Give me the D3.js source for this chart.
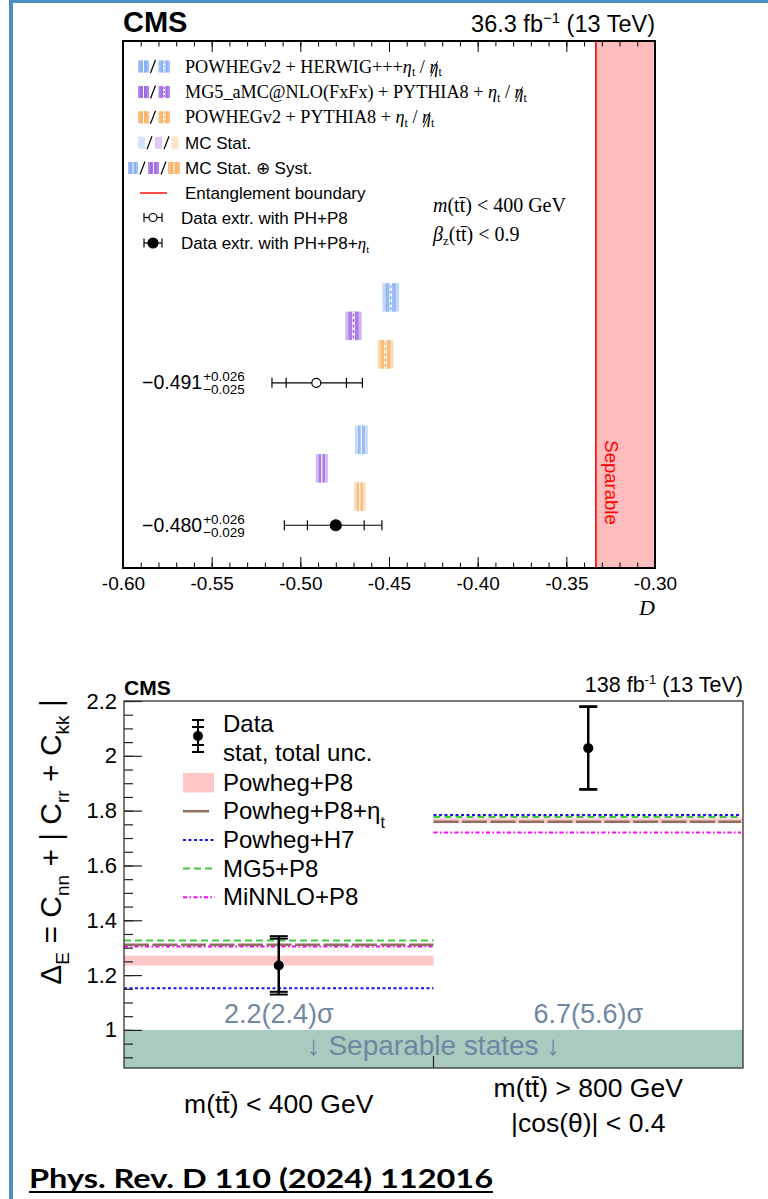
<!DOCTYPE html>
<html><head><meta charset="utf-8">
<script src="https://cdn.jsdelivr.net/npm/d3@7"></script>
<style>body{margin:0;background:#fff} svg{display:block}</style>
</head><body><svg id="c" width="768" height="1199"></svg>
<script>
// ================= DATA: top chart (36.3 fb-1, D observable) =================
const xTicksTop = [-0.60, -0.55, -0.50, -0.45, -0.40, -0.35, -0.30];
const xTickLabelsTop = ["-0.60", "-0.55", "-0.50", "-0.45", "-0.40", "-0.35", "-0.30"];
const mcNames = ["POWHEGv2 + HERWIG++", "MG5_aMC@NLO(FxFx) + PYTHIA8", "POWHEGv2 + PYTHIA8"];
// predictions without eta_t (upper group) and with eta_t (lower group)
const mcNoEtaValue = [-0.449, -0.470, -0.452];
const mcNoEtaTotal = [0.0047, 0.0046, 0.0044];
const mcNoEtaStat = [0.0029, 0.0028, 0.0027];
const mcEtaValue = [-0.4656, -0.4879, -0.4665];
const mcEtaTotal = [0.0036, 0.0034, 0.0032];
const mcEtaStat = [0.0022, 0.0021, 0.0020];
// extracted data
const dataValue = [-0.491, -0.480];
const dataErrUp = [0.026, 0.026];
const dataErrDown = [0.025, 0.029];
const dataStatUp = [0.017, 0.016];
const dataStatDown = [0.017, 0.016];
const dataValueLabels = ["\u22120.491", "\u22120.480"];
const dataUpLabels = ["+0.026", "+0.026"];
const dataDownLabels = ["\u22120.025", "\u22120.029"];
const entanglementBoundary = -1 / 3;
// row order (categorical rows of the plot, top to bottom)
const mcNoEtaRows = [0, 1, 2];
const dataRows = [3, 8];
const mcEtaRows = [5, 6, 7];

// ================= DATA: bottom chart (138 fb-1, Delta_E) =================
const regions = ["low", "high"];
const yTicksBottom = [1, 1.2, 1.4, 1.6, 1.8, 2, 2.2];
const yTickLabelsBottom = ["1", "1.2", "1.4", "1.6", "1.8", "2", "2.2"];
const deltaData = [1.235, 2.028];
const deltaTotUp = [0.107, 0.153];
const deltaTotDown = [0.106, 0.152];
const deltaStatUp = [0.098, 0.150];
const deltaStatDown = [0.096, 0.149];
const powhegP8Low = [1.235, 1.754];
const powhegP8High = [1.271, 1.772];
const powhegP8Eta = [1.311, 1.759];
const powhegH7 = [1.152, 1.784];
const mg5P8 = [1.326, 1.777];
const minnloP8 = [1.304, 1.720];
const significance = ["2.2(2.4)\u03C3", "6.7(5.6)\u03C3"];
const separableLimit = 1.0;

// ================= styles =================
const W = 768, H = 1199;
const SANS = "'Liberation Sans', Arial, Helvetica, sans-serif";
const SERIF = "'Liberation Serif', 'Times New Roman', serif";
const mcColors = ["#7aa6f3", "#9458de", "#f6aa55"];
const svg = d3.select("#c");

// rich text helper: parts = [{t, sub, sup, it, fs, dx, slash}]
function rich(g, x, y, parts, o) {
  o = o || {};
  const fs = o.fs || 16;
  const t = g.append("text").attr("x", x).attr("y", y)
    .attr("font-family", o.ff || SANS).attr("font-size", fs)
    .attr("fill", o.fill || "#000");
  if (o.anchor) t.attr("text-anchor", o.anchor);
  if (o.weight) t.attr("font-weight", o.weight);
  if (o.transform) t.attr("transform", o.transform);
  let cur = 0;
  const slashed = [];
  parts.forEach(p => {
    const f = p.fs || ((p.sub || p.sup) ? fs * 0.68 : fs);
    const shift = p.sub ? (p.subShift != null ? p.subShift : fs * 0.28) : p.sup ? -(p.supShift != null ? p.supShift : fs * 0.4) : 0;
    const ts = t.append("tspan").attr("font-size", f).attr("dy", shift - cur).text(p.t);
    if (p.dx) ts.attr("dx", p.dx);
    if (p.it) ts.attr("font-style", "italic");
    if (p.ff) ts.attr("font-family", p.ff);
    if (p.slash) slashed.push(ts);
    cur = shift;
  });
  // draw slash strokes over marked glyphs (e.g. eta-slash)
  slashed.forEach(ts => {
    const bb = ts.node().getBBox();
    g.append("line").attr("x1", bb.x + bb.width * 0.15).attr("x2", bb.x + bb.width * 0.9)
      .attr("y1", y + 4).attr("y2", y - fs * 0.62).attr("stroke", "#000").attr("stroke-width", 0.9);
  });
  return t;
}

// ---------- page frame ----------
svg.append("rect").attr("x", 0).attr("y", 0).attr("width", W).attr("height", H).attr("fill", "#fff");
svg.append("rect").attr("x", 9).attr("y", 0).attr("width", 4).attr("height", H).attr("fill", "#4a8fc0");
svg.append("rect").attr("x", 9).attr("y", 0).attr("width", W - 9).attr("height", 3).attr("fill", "#4a8fc0");

// ================= TOP CHART =================
const T = { l: 123, r: 655, t: 41, b: 568 };
const x1 = d3.scaleLinear().domain([-0.60, -0.30]).range([T.l, T.r]);
const y1 = d3.scaleLinear().domain([-9, 9.5]).range([T.t, T.b]);
const rowH = y1(1) - y1(0);
const gT = svg.append("g");

// separable region
gT.append("rect").attr("x", x1(entanglementBoundary)).attr("y", T.t)
  .attr("width", x1(-0.30) - x1(entanglementBoundary)).attr("height", T.b - T.t).attr("fill", "#ffbcbc");
gT.append("line").attr("x1", x1(entanglementBoundary)).attr("x2", x1(entanglementBoundary))
  .attr("y1", T.t).attr("y2", T.b).attr("stroke", "#ff0000").attr("stroke-width", 1.6);
gT.append("text").attr("transform", `translate(${x1(entanglementBoundary) + 9.5},${y1(6.5)}) rotate(90)`)
  .attr("text-anchor", "middle").attr("font-family", SANS).attr("font-size", 18.5).attr("fill", "#ff0000").text("Separable");

// MC boxes
function mcBox(cx, tot, stat, yc, color, eta) {
  const g = gT.append("g");
  const h = rowH;
  g.append("rect").attr("x", x1(cx - tot)).attr("width", x1(cx + tot) - x1(cx - tot))
    .attr("y", yc - h / 2).attr("height", h).attr("fill", color).attr("fill-opacity", 0.45);
  g.append("rect").attr("x", x1(cx - stat)).attr("width", x1(cx + stat) - x1(cx - stat))
    .attr("y", yc - h / 2).attr("height", h).attr("fill", color).attr("fill-opacity", 0.6);
  if (eta) {
    g.append("line").attr("x1", x1(cx)).attr("x2", x1(cx)).attr("y1", yc - h / 2).attr("y2", yc + h / 2)
      .attr("stroke", "#fff").attr("stroke-width", 1.3).attr("stroke-opacity", 0.9);
    [-1, 1].forEach(s => g.append("line").attr("x1", x1(cx + s * stat)).attr("x2", x1(cx + s * stat))
      .attr("y1", yc - h / 2).attr("y2", yc + h / 2).attr("stroke", "#fff").attr("stroke-width", 0.8).attr("stroke-opacity", 0.6));
  } else {
    g.append("line").attr("x1", x1(cx)).attr("x2", x1(cx)).attr("y1", yc - h / 2).attr("y2", yc + h / 2)
      .attr("stroke", "#fff").attr("stroke-width", 2.6);
    g.append("line").attr("x1", x1(cx)).attr("x2", x1(cx)).attr("y1", yc - h / 2 + 2).attr("y2", yc + h / 2)
      .attr("stroke", color).attr("stroke-width", 1.4).attr("stroke-dasharray", "3,2.5");
  }
}
mcNames.forEach((n, i) => {
  mcBox(mcNoEtaValue[i], mcNoEtaTotal[i], mcNoEtaStat[i], y1(mcNoEtaRows[i]), mcColors[i], false);
  mcBox(mcEtaValue[i], mcEtaTotal[i], mcEtaStat[i], y1(mcEtaRows[i]), mcColors[i], true);
});

// data points
dataValue.forEach((v, i) => {
  const yc = y1(dataRows[i]);
  const g = gT.append("g").attr("stroke", "#000").attr("stroke-width", 1.2);
  g.append("line").attr("x1", x1(v - dataErrDown[i])).attr("x2", x1(v + dataErrUp[i])).attr("y1", yc).attr("y2", yc);
  [v - dataErrDown[i], v + dataErrUp[i], v - dataStatDown[i], v + dataStatUp[i]].forEach(e =>
    g.append("line").attr("x1", x1(e)).attr("x2", x1(e)).attr("y1", yc - 5).attr("y2", yc + 5));
  if (i === 0) g.append("circle").attr("cx", x1(v)).attr("cy", yc).attr("r", 4.5).attr("fill", "#fff");
  else g.append("circle").attr("cx", x1(v)).attr("cy", yc).attr("r", 5.5).attr("fill", "#000");
  const lab = rich(gT, 142, yc + 6.5, [{ t: dataValueLabels[i] }], { fs: 19.5 });
  const wLab = lab.node().getComputedTextLength();
  rich(gT, 142 + wLab + 1, yc - 1.5, [{ t: dataUpLabels[i] }], { fs: 13.5 });
  rich(gT, 142 + wLab + 1, yc + 11.5, [{ t: dataDownLabels[i] }], { fs: 13.5 });
});

// axes
const axB = gT.append("g").attr("transform", `translate(0,${T.b})`)
  .call(d3.axisBottom(x1).tickValues(xTicksTop).tickSize(-11).tickPadding(9).tickFormat((d, i) => xTickLabelsTop[i]));
const minorTop = d3.range(-0.60, -0.2999, 0.01);
gT.append("g").attr("transform", `translate(0,${T.b})`)
  .call(d3.axisBottom(x1).tickValues(minorTop).tickSize(-5.5).tickFormat(""));
gT.append("g").attr("transform", `translate(0,${T.t})`)
  .call(d3.axisTop(x1).tickValues(xTicksTop).tickSize(-11).tickFormat(""));
gT.append("g").attr("transform", `translate(0,${T.t})`)
  .call(d3.axisTop(x1).tickValues(minorTop).tickSize(-5.5).tickFormat(""));
gT.selectAll(".domain").remove();
gT.selectAll(".tick line").attr("stroke", "#000").attr("stroke-width", 1);
axB.selectAll("text").attr("font-family", SANS).attr("font-size", 19).attr("fill", "#000");
gT.append("rect").attr("x", T.l).attr("y", T.t).attr("width", T.r - T.l).attr("height", T.b - T.t)
  .attr("fill", "none").attr("stroke", "#000").attr("stroke-width", 2);
gT.append("text").attr("x", T.r).attr("y", 615).attr("text-anchor", "end").attr("font-family", SERIF)
  .attr("font-style", "italic").attr("font-size", 22).text("D");

// header
svg.append("text").attr("x", T.l).attr("y", 32).attr("font-family", SANS).attr("font-weight", "bold")
  .attr("font-size", 29).text("CMS");
rich(svg, T.r, 32, [{ t: "36.3 fb" }, { t: "\u22121", sup: true, supShift: 9, fs: 15 }, { t: " (13 TeV)" }], { fs: 23.5, anchor: "end" });

// region text
rich(gT, 433, 212, [{ t: "m", it: true }, { t: "(tt\u0304) < 400 GeV" }], { ff: SERIF, fs: 20 });
rich(gT, 433, 241, [{ t: "\u03B2", it: true }, { t: "z", sub: true, subShift: 4, fs: 13 }, { t: "(tt\u0304) < 0.9" }], { ff: SERIF, fs: 20 });

// legend
const LY = [66.5, 92, 117.3, 142.8, 168, 193, 217.5, 243];
function iconBox(g, x, yc, w, color, eta, op) {
  const h = 12;
  g.append("rect").attr("x", x).attr("y", yc - h / 2).attr("width", w).attr("height", h).attr("fill", color).attr("fill-opacity", op * 0.7);
  g.append("rect").attr("x", x + w * 0.2).attr("y", yc - h / 2).attr("width", w * 0.6).attr("height", h).attr("fill", color).attr("fill-opacity", op * 0.6);
  if (eta) {
    g.append("line").attr("x1", x + w / 2).attr("x2", x + w / 2).attr("y1", yc - h / 2).attr("y2", yc + h / 2).attr("stroke", "#fff").attr("stroke-width", 1);
  } else {
    g.append("line").attr("x1", x + w / 2).attr("x2", x + w / 2).attr("y1", yc - h / 2).attr("y2", yc + h / 2).attr("stroke", "#fff").attr("stroke-width", 2.2);
    g.append("line").attr("x1", x + w / 2).attr("x2", x + w / 2).attr("y1", yc - h / 2 + 1).attr("y2", yc + h / 2).attr("stroke", color).attr("stroke-width", 1.2).attr("stroke-dasharray", "2,2");
  }
}
function slashMark(g, x, yc) {
  g.append("line").attr("x1", x).attr("x2", x + 5).attr("y1", yc + 6.5).attr("y2", yc - 6.5).attr("stroke", "#000").attr("stroke-width", 1.2);
}
const gL = svg.append("g");
mcNames.forEach((n, i) => {
  const yc = LY[i];
  iconBox(gL, 138, yc, 11, mcColors[i], true, 1);
  slashMark(gL, 150.5, yc);
  iconBox(gL, 158.5, yc, 11.5, mcColors[i], false, 1);
  const nm = i === 0 ? "POWHEGv2 + HERWIG+++" : i === 1 ? "MG5_aMC@NLO(FxFx) + PYTHIA8 + " : "POWHEGv2 + PYTHIA8 + ";
  rich(gL, 185, yc + 6, [{ t: nm }, { t: "\u03B7", it: true }, { t: "t", sub: true, subShift: 3.5, fs: 12 }, { t: " / " },
    { t: "\u03B7", it: true, slash: true }, { t: "t", sub: true, subShift: 3.5, fs: 12 }], { ff: SERIF, fs: 18.2 });
});
// MC stat row
[138, 155, 171.5].forEach((x, i) => {
  gL.append("rect").attr("x", x).attr("y", LY[3] - 6).attr("width", 7).attr("height", 12).attr("fill", mcColors[i]).attr("fill-opacity", 0.32);
  if (i < 2) slashMark(gL, x + 9, LY[3]);
});
rich(gL, 185, LY[3] + 6, [{ t: "MC Stat." }], { fs: 17 });
[[128, 10], [148, 11], [168, 12]].forEach(([x, w], i) => {
  iconBox(gL, x, LY[4], w, mcColors[i], true, 1);
  if (i < 2) slashMark(gL, x + w + 2, LY[4]);
});
rich(gL, 185, LY[4] + 6, [{ t: "MC Stat. \u2295 Syst." }], { fs: 17 });
gL.append("line").attr("x1", 140).attr("x2", 167).attr("y1", LY[5]).attr("y2", LY[5]).attr("stroke", "#ff0000").attr("stroke-width", 1.4);
rich(gL, 185, LY[5] + 6, [{ t: "Entanglement boundary" }], { fs: 17 });
[6, 7].forEach((r, i) => {
  const yc = LY[r];
  const g = gL.append("g").attr("stroke", "#000").attr("stroke-width", 1.2);
  g.append("line").attr("x1", 144).attr("x2", 162).attr("y1", yc).attr("y2", yc);
  [144, 162].forEach(x => g.append("line").attr("x1", x).attr("x2", x).attr("y1", yc - 4.5).attr("y2", yc + 4.5));
  g.append("circle").attr("cx", 153).attr("cy", yc).attr("r", i === 0 ? 4 : 5).attr("fill", i === 0 ? "#fff" : "#000");
  const parts = i === 0 ? [{ t: "Data extr. with PH+P8" }] :
    [{ t: "Data extr. with PH+P8+" }, { t: "\u03B7", it: true, ff: SERIF }, { t: "t", sub: true, subShift: 3.5, fs: 11, ff: SERIF }];
  rich(gL, 181, yc + 6, parts, { fs: 17 });
});

// ================= BOTTOM CHART =================
const B = { l: 124, r: 743, t: 701, b: 1068 };
const x2 = d3.scaleBand().domain(regions).range([B.l, B.r]);
const y2 = d3.scaleLinear().domain([0.861, 2.2]).range([B.b, B.t]);
const gB = svg.append("g");

gB.append("rect").attr("x", B.l).attr("y", y2(separableLimit)).attr("width", B.r - B.l)
  .attr("height", B.b - y2(separableLimit)).attr("fill", "#a9cabe");

const lineStyles = [
  { vals: mg5P8, color: "#44c844", w: 2, dash: "7,4" },
  { vals: powhegP8Eta, color: "#8e6f62", w: 2.5, dash: "25,3.5" },
  { vals: minnloP8, color: "#ff00ff", w: 2, dash: "4,2.5,1.5,2.5" },
  { vals: powhegH7, color: "#1515f0", w: 2, dash: "3,2.5" }
];
regions.forEach((r, i) => {
  const x0 = x2(r), x1b = x2(r) + x2.bandwidth();
  gB.append("rect").attr("x", x0).attr("width", x1b - x0).attr("y", y2(powhegP8High[i]))
    .attr("height", y2(powhegP8Low[i]) - y2(powhegP8High[i])).attr("fill", "#ffc7c7");
});
[lineStyles[3], lineStyles[0], lineStyles[2], lineStyles[1]].forEach(s => {
  regions.forEach((r, i) => {
    gB.append("line").attr("x1", x2(r)).attr("x2", x2(r) + x2.bandwidth() - (i === 1 ? 2 : 0))
      .attr("y1", y2(s.vals[i])).attr("y2", y2(s.vals[i]))
      .attr("stroke", s.color).attr("stroke-width", s.w).attr("stroke-dasharray", s.dash);
  });
});
// data points
regions.forEach((r, i) => {
  const cx = x2(r) + x2.bandwidth() / 2;
  const g = gB.append("g").attr("stroke", "#000").attr("stroke-width", 2.5);
  g.append("line").attr("x1", cx).attr("x2", cx).attr("y1", y2(deltaData[i] + deltaTotUp[i])).attr("y2", y2(deltaData[i] - deltaTotDown[i]));
  [deltaData[i] + deltaTotUp[i], deltaData[i] - deltaTotDown[i], deltaData[i] + deltaStatUp[i], deltaData[i] - deltaStatDown[i]].forEach(e =>
    g.append("line").attr("x1", cx - 9).attr("x2", cx + 9).attr("y1", y2(e)).attr("y2", y2(e)).attr("stroke-width", 2));
  g.append("circle").attr("cx", cx).attr("cy", y2(deltaData[i])).attr("r", 5).attr("fill", "#000").attr("stroke", "none");
  gB.append("text").attr("x", cx).attr("y", 1023).attr("text-anchor", "middle").attr("font-family", SANS)
    .attr("font-size", 27).attr("fill", "#7088a2").text(significance[i]);
});
gB.append("text").attr("x", (B.l + B.r) / 2).attr("y", 1055).attr("text-anchor", "middle").attr("font-family", SANS)
  .attr("font-size", 28).attr("fill", "#6c88a2").text("\u2193 Separable states \u2193");

// axes
const axL = gB.append("g").attr("transform", `translate(${B.l},0)`)
  .call(d3.axisLeft(y2).tickValues(yTicksBottom).tickSize(-18).tickPadding(7).tickFormat((d, i) => yTickLabelsBottom[i]));
gB.append("g").attr("transform", `translate(${B.l},0)`)
  .call(d3.axisLeft(y2).tickValues(d3.range(0.9, 2.2001, 0.05)).tickSize(-9).tickFormat(""));
gB.selectAll(".domain").remove();
gB.selectAll(".tick line").attr("stroke", "#222").attr("stroke-width", 1.2);
axL.selectAll("text").attr("font-family", SANS).attr("font-size", 22).attr("fill", "#000");
gB.append("line").attr("x1", x2(regions[1])).attr("x2", x2(regions[1])).attr("y1", B.b).attr("y2", B.b - 12)
  .attr("stroke", "#222").attr("stroke-width", 1.2);
gB.append("rect").attr("x", B.l).attr("y", B.t).attr("width", B.r - B.l).attr("height", B.b - B.t)
  .attr("fill", "none").attr("stroke", "#333").attr("stroke-width", 1.3);

// y title
rich(gB, 0, 0, [{ t: "\u0394" }, { t: "E", sub: true, subShift: 8, fs: 19 }, { t: " = C" }, { t: "nn", sub: true, subShift: 8, fs: 19 },
  { t: " + | C" }, { t: "rr", sub: true, subShift: 8, fs: 19 }, { t: " + C" }, { t: "kk", sub: true, subShift: 8, fs: 19 }, { t: " |" }],
  { fs: 30, anchor: "middle", transform: "translate(61,842) rotate(-90)" });

// category labels
const catCenters = regions.map(r => x2(r) + x2.bandwidth() / 2);
rich(gB, catCenters[0], 1112.5, [{ t: "m(tt\u0304) < 400 GeV" }], { fs: 26.5, anchor: "middle" });
rich(gB, catCenters[1], 1097, [{ t: "m(tt\u0304) > 800 GeV" }], { fs: 26.5, anchor: "middle" });
rich(gB, catCenters[1], 1131.5, [{ t: "|cos(\u03B8)| < 0.4" }], { fs: 26.5, anchor: "middle" });

// header
svg.append("text").attr("x", B.l).attr("y", 695).attr("font-family", SANS).attr("font-weight", "bold").attr("font-size", 21).text("CMS");
rich(svg, B.r, 692, [{ t: "138 fb" }, { t: "-1", sup: true, supShift: 8, fs: 13 }, { t: " (13 TeV)" }], { fs: 21.5, anchor: "end" });

// legend
const gBL = svg.append("g");
{
  const g = gBL.append("g").attr("stroke", "#000").attr("stroke-width", 2);
  g.append("line").attr("x1", 198).attr("x2", 198).attr("y1", 720).attr("y2", 752);
  [720, 727, 745, 752].forEach(y => g.append("line").attr("x1", 192).attr("x2", 204).attr("y1", y).attr("y2", y));
  g.append("circle").attr("cx", 198).attr("cy", 736).attr("r", 5).attr("fill", "#000").attr("stroke", "none");
  rich(gBL, 223, 732, [{ t: "Data" }], { fs: 24 });
  rich(gBL, 223, 761, [{ t: "stat, total unc." }], { fs: 24 });
}
const legRows = [
  { name: [{ t: "Powheg+P8" }], band: true },
  { name: [{ t: "Powheg+P8+\u03B7" }, { t: "t", sub: true, subShift: 9, fs: 16 }], style: lineStyles[1] },
  { name: [{ t: "Powheg+H7" }], style: lineStyles[3] },
  { name: [{ t: "MG5+P8" }], style: lineStyles[0] },
  { name: [{ t: "MiNNLO+P8" }], style: lineStyles[2] }
];
legRows.forEach((row, k) => {
  const yc = 782.5 + 28.7 * k;
  if (row.band) gBL.append("rect").attr("x", 183).attr("y", yc - 9.5).attr("width", 31).attr("height", 19.5).attr("fill", "#ffc7c7");
  else gBL.append("line").attr("x1", 183).attr("x2", k === 1 ? 209 : 215).attr("y1", yc).attr("y2", yc)
    .attr("stroke", row.style.color).attr("stroke-width", row.style.w).attr("stroke-dasharray", k === 1 ? null : row.style.dash);
  rich(gBL, 223, yc + 8, row.name, { fs: 24 });
});

// reference footer
svg.append("text").attr("x", 29).attr("y", 1188).attr("font-family", "Lato, 'Open Sans', sans-serif").attr("font-weight", "bold")
  .attr("font-size", 27).attr("textLength", 464).attr("lengthAdjust", "spacingAndGlyphs").text("Phys. Rev. D 110 (2024) 112016");
svg.append("rect").attr("x", 29).attr("y", 1191).attr("width", 464).attr("height", 2).attr("fill", "#000");
</script></body></html>
